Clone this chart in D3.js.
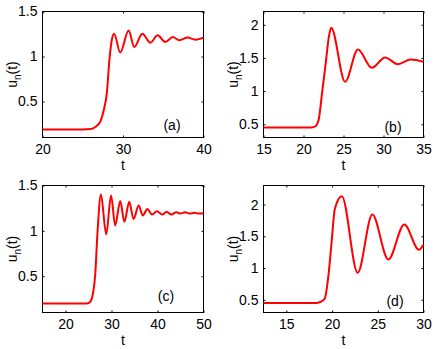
<!DOCTYPE html>
<html>
<head>
<meta charset="utf-8">
<script src="https://cdn.jsdelivr.net/npm/d3@7"></script>
<style>
  body { margin: 0; background: #fff; }
  text { font-family: "Liberation Sans", Arial, sans-serif; }
</style>
</head>
<body>
<div id="canvas"></div>
<script>
// panel (a)
const tA = [20, 25, 26.0, 26.6, 27.2, 27.6, 28.0, 28.3, 28.6, 28.9, 29.65, 30.7, 31.4, 32.4, 33.4, 34.3, 35.25, 36.2, 37.0, 38.0, 39.0, 40];
const uA = [0.19, 0.19, 0.195, 0.22, 0.28, 0.4, 0.6, 0.95, 1.18, 1.254, 1.044, 1.29, 1.106, 1.254, 1.154, 1.235, 1.16, 1.216, 1.18, 1.21, 1.187, 1.21];
// panel (b)
const tB = [15, 21.0, 21.5, 21.9, 22.3, 22.75, 23.2, 23.46, 25.2, 26.8, 28.55, 30.2, 31.8, 33.4, 35];
const uB = [0.45, 0.45, 0.47, 0.57, 0.95, 1.39, 1.84, 1.955, 1.14, 1.626, 1.35, 1.506, 1.405, 1.475, 1.44];
// panel (c)
const tC = [15, 24.5, 25.2, 25.7, 26.1, 26.45, 26.96, 27.7, 28.85, 29.9, 30.8, 31.9, 32.8, 33.85, 34.8, 35.9, 36.8, 37.8, 38.8, 39.9, 41, 42, 43, 44.1, 45, 46, 47, 48, 48.9, 50];
const uC = [0.2, 0.2, 0.21, 0.25, 0.35, 0.51, 0.985, 1.40, 0.96, 1.39, 1.06, 1.33, 1.10, 1.32, 1.13, 1.28, 1.17, 1.24, 1.18, 1.217, 1.18, 1.21, 1.18, 1.206, 1.19, 1.205, 1.19, 1.2, 1.19, 1.195];
// panel (d)
const tD = [12.5, 18.3, 18.8, 19.2, 19.6, 19.95, 20.3, 21.07, 22.8, 24.4, 26.15, 27.9, 29.5, 30];
const uD = [0.45, 0.45, 0.47, 0.52, 0.88, 1.41, 1.93, 2.13, 0.925, 1.843, 1.135, 1.686, 1.287, 1.37];

// tick values and labels
const xTicksA = [20, 30, 40], xLabelsA = ["20", "30", "40"];
const xTicksB = [15, 20, 25, 30, 35], xLabelsB = ["15", "20", "25", "30", "35"];
const xTicksC = [20, 30, 40, 50], xLabelsC = ["20", "30", "40", "50"];
const xTicksD = [15, 20, 25, 30], xLabelsD = ["15", "20", "25", "30"];
const yTicksAC = [0.5, 1, 1.5], yLabelsAC = ["0.5", "1", "1.5"];
const yTicksBD = [0.5, 1, 1.5, 2], yLabelsBD = ["0.5", "1", "1.5", "2"];

const width = 436;
const height = 349;

const svg = d3.select("#canvas").append("svg")
  .attr("width", width)
  .attr("height", height);

const panels = [
  {t: tA, u: uA, xd: [20, 40], yd: [0.1, 1.5], xt: xTicksA, xl: xLabelsA, yt: yTicksAC, yl: yLabelsAC,
   box: {left: 42.5, right: 203.5, top: 11.5, bottom: 137.5}, tag: "(a)", tagPos: [172, 130]},
  {t: tB, u: uB, xd: [15, 35], yd: [0.3, 2.2], xt: xTicksB, xl: xLabelsB, yt: yTicksBD, yl: yLabelsBD,
   box: {left: 263.5, right: 423.5, top: 11.5, bottom: 137.5}, tag: "(b)", tagPos: [393, 132]},
  {t: tC, u: uC, xd: [15, 50], yd: [0.1, 1.5], xt: xTicksC, xl: xLabelsC, yt: yTicksAC, yl: yLabelsAC,
   box: {left: 42.5, right: 203.5, top: 185.5, bottom: 312.5}, tag: "(c)", tagPos: [166, 301]},
  {t: tD, u: uD, xd: [12.5, 30], yd: [0.3, 2.3], xt: xTicksD, xl: xLabelsD, yt: yTicksBD, yl: yLabelsBD,
   box: {left: 263.5, right: 423.5, top: 185.5, bottom: 312.5}, tag: "(d)", tagPos: [395, 306]}
];

panels.forEach(p => {
  const b = p.box;
  const x = d3.scaleLinear().domain(p.xd).range([b.left, b.right]);
  const y = d3.scaleLinear().domain(p.yd).range([b.bottom, b.top]);
  const fx = (d, i) => p.xl[p.xt.indexOf(d)];
  const fy = (d, i) => p.yl[p.yt.indexOf(d)];

  const g = svg.append("g");

  // bottom and left axes with labels, ticks pointing inward
  g.append("g")
    .attr("transform", `translate(0,${b.bottom})`)
    .call(d3.axisBottom(x).tickValues(p.xt).tickFormat(fx).tickSizeInner(-2).tickSizeOuter(0).tickPadding(7))
    .call(a => a.select(".domain").remove())
    .call(a => a.selectAll("text").attr("font-size", 14).attr("fill", "#000").style("font-family", "'Liberation Sans', Arial, sans-serif"));
  g.append("g")
    .attr("transform", `translate(${b.left},0)`)
    .call(d3.axisLeft(y).tickValues(p.yt).tickFormat(fy).tickSizeInner(-2).tickSizeOuter(0).tickPadding(5))
    .call(a => a.select(".domain").remove())
    .call(a => a.selectAll("text").attr("font-size", 14).attr("fill", "#000").style("font-family", "'Liberation Sans', Arial, sans-serif"));
  // mirrored ticks on top and right
  g.append("g")
    .attr("transform", `translate(0,${b.top})`)
    .call(d3.axisTop(x).tickValues(p.xt).tickFormat("").tickSizeInner(-2).tickSizeOuter(0))
    .call(a => a.select(".domain").remove());
  g.append("g")
    .attr("transform", `translate(${b.right},0)`)
    .call(d3.axisRight(y).tickValues(p.yt).tickFormat("").tickSizeInner(-2).tickSizeOuter(0))
    .call(a => a.select(".domain").remove());

  // box
  g.append("rect")
    .attr("x", b.left).attr("y", b.top)
    .attr("width", b.right - b.left).attr("height", b.bottom - b.top)
    .attr("fill", "none").attr("stroke", "#000").attr("stroke-width", 1);

  // curve
  const pts = p.t.map((t, i) => [t, p.u[i]]);
  const line = d3.line()
    .x(d => x(d[0]))
    .y(d => y(d[1]))
    .curve(d3.curveMonotoneX);
  g.append("path")
    .datum(pts)
    .attr("d", line)
    .attr("fill", "none")
    .attr("stroke", "#ff0000")
    .attr("stroke-width", 2);

  // panel tag
  g.append("text")
    .attr("x", p.tagPos[0]).attr("y", p.tagPos[1])
    .attr("text-anchor", "middle")
    .attr("font-size", 14)
    .text(p.tag);

  // x label
  g.append("text")
    .attr("x", (b.left + b.right) / 2).attr("y", b.bottom + 32)
    .attr("text-anchor", "middle")
    .attr("font-size", 14)
    .text("t");

  // y label
  const yl = g.append("text")
    .attr("transform", `translate(${b.left - 26},${(b.top + b.bottom) / 2}) rotate(-90)`)
    .attr("text-anchor", "middle")
    .attr("font-size", 14);
  yl.append("tspan").text("u");
  yl.append("tspan").attr("font-size", 10).attr("dy", 4).text("n");
  yl.append("tspan").attr("dy", -4).text("(t)");
});
</script>
</body>
</html>
